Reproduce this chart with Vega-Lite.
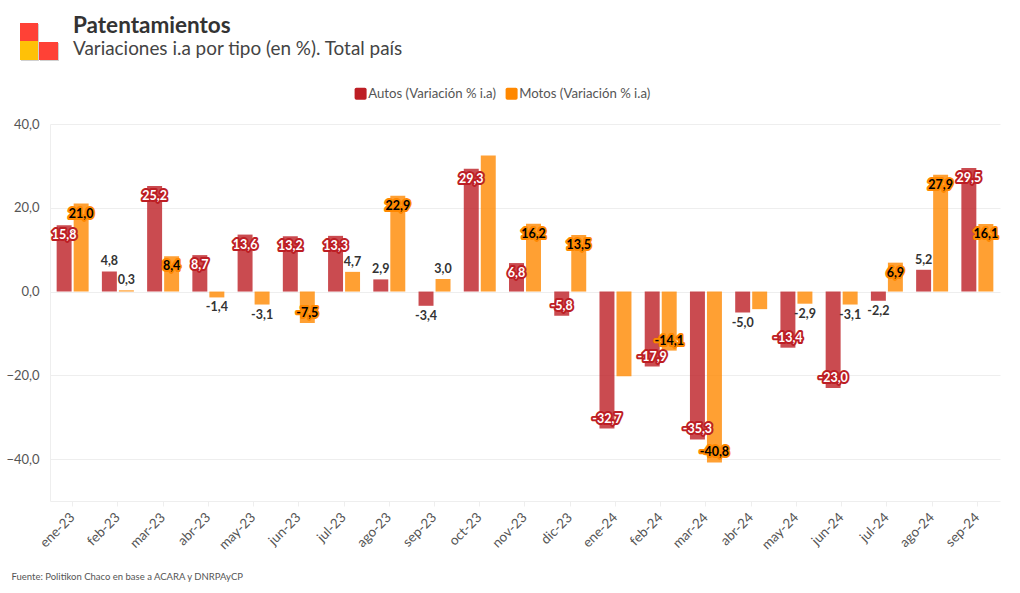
{"$schema":"https://vega.github.io/schema/vega-lite/v6.json","width":950,"height":377,"autosize":"none","padding":{"left":50,"top":124,"right":20,"bottom":92},"background":"white","title":{"text":"Patentamientos","subtitle":"Variaciones i.a por tipo (en %). Total país","anchor":"start","frame":"group","dx":23,"offset":-36,"font":"Lato","fontSize":22.5,"fontWeight":"bold","color":"#333333","subtitleFont":"Lato","subtitleFontSize":18.9,"subtitleColor":"#444444","subtitlePadding":3},"config":{"font":"Lato","view":{"stroke":null}},"datasets":{"d":[{"m":"ene-23","s":"Autos (Variación % i.a)","v":15.8,"label":"15,8"},{"m":"feb-23","s":"Autos (Variación % i.a)","v":4.8,"label":"4,8"},{"m":"mar-23","s":"Autos (Variación % i.a)","v":25.2,"label":"25,2"},{"m":"abr-23","s":"Autos (Variación % i.a)","v":8.7,"label":"8,7"},{"m":"may-23","s":"Autos (Variación % i.a)","v":13.6,"label":"13,6"},{"m":"jun-23","s":"Autos (Variación % i.a)","v":13.2,"label":"13,2"},{"m":"jul-23","s":"Autos (Variación % i.a)","v":13.3,"label":"13,3"},{"m":"ago-23","s":"Autos (Variación % i.a)","v":2.9,"label":"2,9"},{"m":"sep-23","s":"Autos (Variación % i.a)","v":-3.4,"label":"-3,4"},{"m":"oct-23","s":"Autos (Variación % i.a)","v":29.3,"label":"29,3"},{"m":"nov-23","s":"Autos (Variación % i.a)","v":6.8,"label":"6,8"},{"m":"dic-23","s":"Autos (Variación % i.a)","v":-5.8,"label":"-5,8"},{"m":"ene-24","s":"Autos (Variación % i.a)","v":-32.7,"label":"-32,7"},{"m":"feb-24","s":"Autos (Variación % i.a)","v":-17.9,"label":"-17,9"},{"m":"mar-24","s":"Autos (Variación % i.a)","v":-35.3,"label":"-35,3"},{"m":"abr-24","s":"Autos (Variación % i.a)","v":-5.0,"label":"-5,0"},{"m":"may-24","s":"Autos (Variación % i.a)","v":-13.4,"label":"-13,4"},{"m":"jun-24","s":"Autos (Variación % i.a)","v":-23.0,"label":"-23,0"},{"m":"jul-24","s":"Autos (Variación % i.a)","v":-2.2,"label":"-2,2"},{"m":"ago-24","s":"Autos (Variación % i.a)","v":5.2,"label":"5,2"},{"m":"sep-24","s":"Autos (Variación % i.a)","v":29.5,"label":"29,5"},{"m":"ene-23","s":"Motos (Variación % i.a)","v":21.0,"label":"21,0"},{"m":"feb-23","s":"Motos (Variación % i.a)","v":0.3,"label":"0,3"},{"m":"mar-23","s":"Motos (Variación % i.a)","v":8.4,"label":"8,4"},{"m":"abr-23","s":"Motos (Variación % i.a)","v":-1.4,"label":"-1,4"},{"m":"may-23","s":"Motos (Variación % i.a)","v":-3.1,"label":"-3,1"},{"m":"jun-23","s":"Motos (Variación % i.a)","v":-7.5,"label":"-7,5"},{"m":"jul-23","s":"Motos (Variación % i.a)","v":4.7,"label":"4,7"},{"m":"ago-23","s":"Motos (Variación % i.a)","v":22.9,"label":"22,9"},{"m":"sep-23","s":"Motos (Variación % i.a)","v":3.0,"label":"3,0"},{"m":"oct-23","s":"Motos (Variación % i.a)","v":32.5},{"m":"nov-23","s":"Motos (Variación % i.a)","v":16.2,"label":"16,2"},{"m":"dic-23","s":"Motos (Variación % i.a)","v":13.5,"label":"13,5"},{"m":"ene-24","s":"Motos (Variación % i.a)","v":-20.2},{"m":"feb-24","s":"Motos (Variación % i.a)","v":-14.1,"label":"-14,1"},{"m":"mar-24","s":"Motos (Variación % i.a)","v":-40.8,"label":"-40,8"},{"m":"abr-24","s":"Motos (Variación % i.a)","v":-4.2},{"m":"may-24","s":"Motos (Variación % i.a)","v":-2.9,"label":"-2,9"},{"m":"jun-24","s":"Motos (Variación % i.a)","v":-3.1,"label":"-3,1"},{"m":"jul-24","s":"Motos (Variación % i.a)","v":6.9,"label":"6,9"},{"m":"ago-24","s":"Motos (Variación % i.a)","v":27.9,"label":"27,9"},{"m":"sep-24","s":"Motos (Variación % i.a)","v":16.1,"label":"16,1"}],"logo":[{"part":"shadow","x0":-29,"x1":-11,"y0":-100,"y1":-82},{"part":"shadow","x0":-29,"x1":-11,"y0":-82,"y1":-63},{"part":"shadow","x0":-10,"x1":9,"y0":-81,"y1":-63},{"part":"red","x0":-30,"x1":-12,"y0":-101,"y1":-83},{"part":"yellow","x0":-30,"x1":-12,"y0":-83,"y1":-64},{"part":"red","x0":-11,"x1":8,"y0":-82,"y1":-64}]},"layer":[{"data":{"name":"d"},"encoding":{"x":{"field":"m","type":"nominal","sort":null,"scale":{"paddingInner":0.293,"paddingOuter":0.147},"axis":{"title":"Fuente: Politikon Chaco en base a ACARA y DNRPAyCP","titleFont":"Lato","titleFontSize":9.5,"titleFontWeight":"normal","titleColor":"#555555","titleX":-39,"titleY":70,"titleAlign":"left","titleAnchor":"start","labelAngle":-45,"labelAlign":"right","labelBaseline":"middle","labelFontSize":13.5,"labelColor":"#555555","labelPadding":9,"labelDx":5,"tickColor":"#eeeeee","domainColor":"#eeeeee","ticks":true,"tickSize":5}},"xOffset":{"field":"s","type":"nominal","scale":{"paddingInner":0.12}},"y":{"field":"v","type":"quantitative","scale":{"domain":[-50,40],"nice":false},"axis":{"title":null,"values":[-40,-20,0,20,40],"labelExpr":"replace(format(datum.value,'.1f'),'.',',')","labelFontSize":13,"labelColor":"#555555","labelPadding":11,"ticks":false,"domain":true,"domainColor":"#eeeeee","gridColor":"#eeeeee","grid":true}}},"layer":[{"mark":{"type":"bar","opacity":0.8},"encoding":{"color":{"field":"s","type":"nominal","scale":{"domain":["Autos (Variación % i.a)","Motos (Variación % i.a)"],"range":["#bd1e24","#ff8800"]},"legend":{"title":null,"orient":"none","direction":"horizontal","legendX":304,"legendY":-37,"labelFontSize":13.2,"labelColor":"#555555","symbolOpacity":1,"symbolType":"M-1,-0.7Q-1,-1 -0.7,-1L0.7,-1Q1,-1 1,-0.7L1,0.7Q1,1 0.7,1L-0.7,1Q-1,1 -1,0.7Z","symbolSize":144,"symbolStrokeWidth":0,"labelOffset":1,"columnPadding":9}}}},{"transform":[{"filter":"datum.label && datum.v>=5.5"}],"mark":{"type":"text","dy":10,"fontSize":12.5,"fontWeight":"bold","strokeWidth":4,"strokeJoin":"round"},"encoding":{"text":{"field":"label"},"stroke":{"field":"s","type":"nominal","scale":{"domain":["Autos (Variación % i.a)","Motos (Variación % i.a)"],"range":["#bd1e24","#ff8800"]},"legend":null}}},{"transform":[{"filter":"datum.label && datum.v<=-5.5"}],"mark":{"type":"text","dy":-10,"fontSize":12.5,"fontWeight":"bold","strokeWidth":4,"strokeJoin":"round"},"encoding":{"text":{"field":"label"},"stroke":{"field":"s","type":"nominal","scale":{"domain":["Autos (Variación % i.a)","Motos (Variación % i.a)"],"range":["#bd1e24","#ff8800"]},"legend":null}}},{"transform":[{"filter":"datum.label && (datum.v>=5.5 || (datum.v<0 && datum.v>-5.5))"}],"mark":{"type":"text","dy":10,"fontSize":12.5,"fontWeight":"bold"},"encoding":{"text":{"field":"label"},"color":{"condition":[{"test":"abs(datum.v)<5.5","value":"#333333"},{"test":"indexof(datum.s,'Autos')===0","value":"#ffffff"}],"value":"#000000"}}},{"transform":[{"filter":"datum.label && (datum.v<=-5.5 || (datum.v>=0 && datum.v<5.5))"}],"mark":{"type":"text","dy":-10,"fontSize":12.5,"fontWeight":"bold"},"encoding":{"text":{"field":"label"},"color":{"condition":[{"test":"abs(datum.v)<5.5","value":"#333333"},{"test":"indexof(datum.s,'Autos')===0","value":"#ffffff"}],"value":"#000000"}}}]},{"data":{"name":"logo"},"mark":{"type":"rect"},"encoding":{"x":{"field":"x0","type":"quantitative","scale":{"domain":[0,950],"nice":false,"zero":false},"axis":null},"x2":{"field":"x1"},"y":{"field":"y0","type":"quantitative","scale":{"domain":[377,0],"nice":false,"zero":false},"axis":null},"y2":{"field":"y1"},"color":{"field":"part","type":"nominal","scale":{"domain":["shadow","red","yellow"],"range":["#d0d0d0","#ff4136","#ffc107"]},"legend":null}}}],"resolve":{"scale":{"x":"independent","y":"independent","color":"independent"},"axis":{"x":"independent","y":"independent"}}}
